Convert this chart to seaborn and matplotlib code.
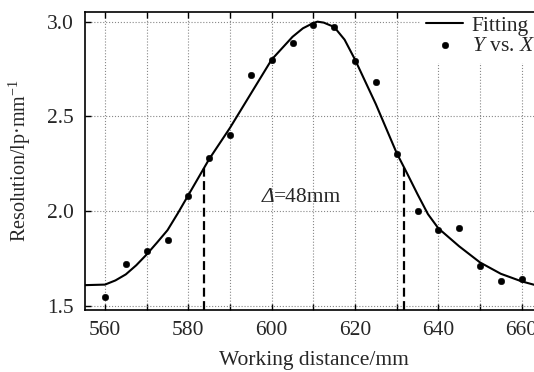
import numpy as np
import pandas as pd
import seaborn as sns
import matplotlib.pyplot as plt
from matplotlib.ticker import MultipleLocator

# Pontos medidos
distancia = [560, 565, 570, 575, 580, 585, 590, 595, 600, 605, 610,
             615, 620, 625, 630, 635, 640, 645, 650, 655, 660]
resolucao = [1.55, 1.72, 1.79, 1.85, 2.08, 2.28, 2.40, 2.72, 2.80, 2.89, 2.98,
             2.97, 2.79, 2.68, 2.30, 2.00, 1.90, 1.91, 1.71, 1.63, 1.64]

# Curva de ajuste
ajuste_x = [555, 560, 562.5, 565, 567.5, 570, 572.5, 575, 577.5, 580, 585, 590,
            595, 600, 605, 607.5, 610, 611, 612.5, 615, 617.5, 620, 625, 630,
            632.5, 635, 637.5, 640, 645, 650, 655, 660, 665]
ajuste_y = [1.61, 1.613, 1.635, 1.667, 1.715, 1.772, 1.835, 1.90, 1.99, 2.085, 2.275, 2.44,
            2.62, 2.80, 2.92, 2.965, 2.993, 3.0, 2.995, 2.972, 2.905, 2.80, 2.565, 2.307,
            2.20, 2.09, 1.985, 1.91, 1.815, 1.73, 1.67, 1.63, 1.60]

# Limites da largura (Δ)
limites_x = [583.8, 631.7]
limites_y = [2.23, 2.235]
texto_delta = ['Δ', '=48mm']

df_pontos = pd.DataFrame({'x': distancia, 'y': resolucao})
df_ajuste = pd.DataFrame({'x': ajuste_x, 'y': ajuste_y})

sns.set_theme(style='ticks')
plt.rcParams['font.family'] = ['Liberation Serif', 'DejaVu Serif']
plt.rcParams['mathtext.fontset'] = 'custom'
plt.rcParams['mathtext.rm'] = 'Liberation Serif'
plt.rcParams['mathtext.it'] = 'Liberation Serif:italic'
plt.rcParams['font.size'] = 15.5

fig = plt.figure(figsize=(5.34, 3.72), dpi=100)
ax = fig.add_axes([85 / 534, 62 / 372, 457.5 / 534, 298 / 372])

sns.lineplot(data=df_ajuste, x='x', y='y', color='black', linewidth=1.5,
             label='Fitting', ax=ax, zorder=3)
sns.scatterplot(data=df_pontos, x='x', y='y', color='black', s=22,
                edgecolor='black', label=r'$Y$ vs. $X$', ax=ax, zorder=4)

for xv, yv in zip(limites_x, limites_y):
    ax.plot([xv, xv], [1.479, yv], color='black', linewidth=1.6,
            linestyle=(0, (4, 2)), zorder=3)

# Δ em itálico + resto do texto
t_delta = ax.text(597.5, 2.07, texto_delta[0], ha='left', va='center',
                  fontsize=15.5, fontstyle='italic')
ax.annotate(texto_delta[1], xy=(1, 0.5), xycoords=t_delta, ha='left',
            va='center', fontsize=15.5)

ax.set_xlim(555.2, 665)
ax.set_ylim(1.479, 3.051)
ax.xaxis.set_major_locator(MultipleLocator(20))
ax.xaxis.set_minor_locator(MultipleLocator(10))
ax.set_yticks([1.5, 2.0, 2.5, 3.0])
ax.set_yticklabels(['1.5', '2.0', '2.5', '3.0'])

ax.grid(which='both', axis='x', linestyle=':', color='#888888', linewidth=0.8)
ax.grid(which='major', axis='y', linestyle=':', color='#888888', linewidth=0.8)
ax.tick_params(which='both', direction='in', top=True, right=False,
               length=4, width=1, labelsize=15.5, color='black')
ax.tick_params(axis='x', which='both', pad=8)
ax.tick_params(axis='y', which='both', pad=8)
for s in ax.spines.values():
    s.set_color('black')
    s.set_linewidth(1.2)

ax.set_xlabel('Working distance/mm', fontsize=15.5, labelpad=8)
ax.set_ylabel('Resolution/lp·mm$^{-1}$', fontsize=14.5, labelpad=10)

leg = ax.legend(loc='upper left', bbox_to_anchor=(420 / 534, 1 - 9 / 372),
                bbox_transform=fig.transFigure, frameon=True, fancybox=False,
                edgecolor='white', facecolor='white', framealpha=1,
                borderpad=0.3, borderaxespad=0, handlelength=1.7,
                handletextpad=0.4, labelspacing=0.0, fontsize=15.5)
leg.set_zorder(2)

plt.savefig('out.png', dpi=100)
